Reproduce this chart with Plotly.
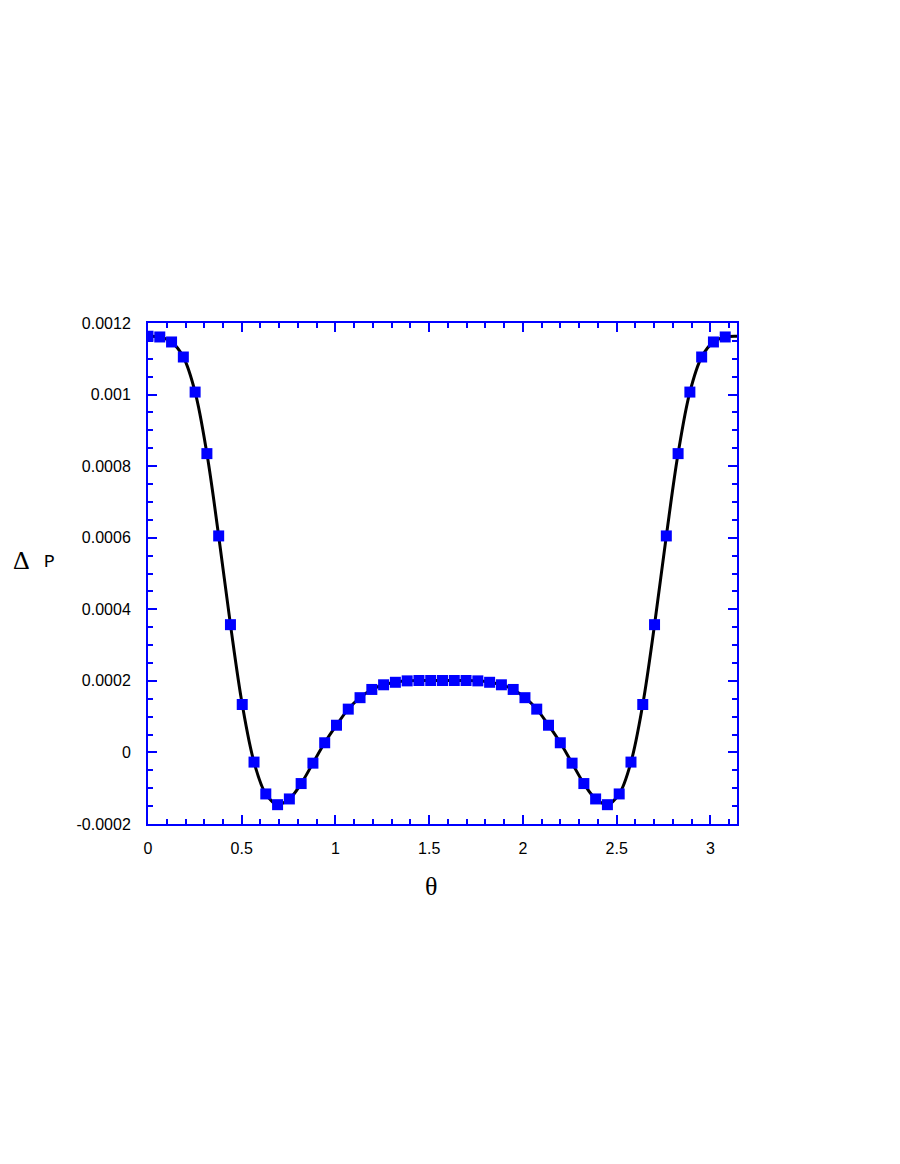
import numpy as np
import plotly.graph_objects as go

theta = np.linspace(0, np.pi, 51)
half_dp = [0.001163, 0.001161, 0.001147, 0.001105, 0.001007, 0.000835, 0.000605,
           0.000357, 0.000134, -0.000027, -0.000116, -0.000146, -0.000130, -0.000087,
           -0.000030, 0.000027, 0.000076, 0.000121, 0.000153, 0.000176, 0.000189,
           0.000196, 0.000200, 0.000201, 0.000201, 0.000201]
delta_p = half_dp + half_dp[-2::-1]

x_ticks = [0, 0.5, 1, 1.5, 2, 2.5, 3]
x_labels = ['0', '0.5', '1', '1.5', '2', '2.5', '3']
y_ticks = [-0.0002, 0, 0.0002, 0.0004, 0.0006, 0.0008, 0.001, 0.0012]
y_labels = ['-0.0002', '0', '0.0002', '0.0004', '0.0006', '0.0008', '0.001', '0.0012']

BLUE = '#0000FF'

fig = go.Figure()
fig.add_trace(go.Scatter(
    x=theta, y=delta_p, mode='lines',
    line=dict(color='black', width=3, shape='spline'),
    showlegend=False, hoverinfo='skip'
))
fig.add_trace(go.Scatter(
    x=theta[:50], y=delta_p[:50], mode='markers',
    marker=dict(symbol='square', size=11, color=BLUE, line=dict(width=0)),
    showlegend=False
))

axis_common = dict(
    showline=True, linecolor=BLUE, linewidth=2, mirror='ticks',
    ticks='inside', tickcolor=BLUE, tickwidth=2, ticklen=9,
    showgrid=False, zeroline=False,
    tickfont=dict(family='Liberation Sans, Arial', size=16, color='black'),
)

fig.update_layout(
    width=900, height=1164,
    margin=dict(l=140, r=171, t=315, b=348),
    plot_bgcolor='white', paper_bgcolor='white',
    xaxis=dict(range=[0, np.pi], tickmode='array', tickvals=x_ticks, ticktext=x_labels,
               ticklabelstandoff=9,
               minor=dict(ticks='inside', dtick=0.1, tick0=0, ticklen=5,
                          tickcolor=BLUE, tickwidth=2),
               **axis_common),
    yaxis=dict(range=[-0.0002, 0.0012], tickmode='array', tickvals=y_ticks, ticktext=y_labels,
               ticklabelstandoff=12,
               minor=dict(ticks='inside', dtick=0.00005, tick0=0, ticklen=5,
                          tickcolor=BLUE, tickwidth=2),
               **axis_common),
    annotations=[
        dict(text='θ', xref='paper', yref='paper', x=0.48, y=-0.125,
             xanchor='center', yanchor='middle', showarrow=False,
             font=dict(family='Liberation Serif, Times New Roman', size=26, color='black')),
        dict(text='Δ', xref='paper', yref='paper', x=-0.214, y=0.525,
             xanchor='center', yanchor='middle', showarrow=False,
             font=dict(family='Liberation Serif, Times New Roman', size=26, color='black')),
        dict(text='P', xref='paper', yref='paper', x=-0.167, y=0.523,
             xanchor='center', yanchor='middle', showarrow=False,
             font=dict(family='Liberation Mono, Courier New', size=18, color='black')),
    ],
)

fig.write_html('out.html')
